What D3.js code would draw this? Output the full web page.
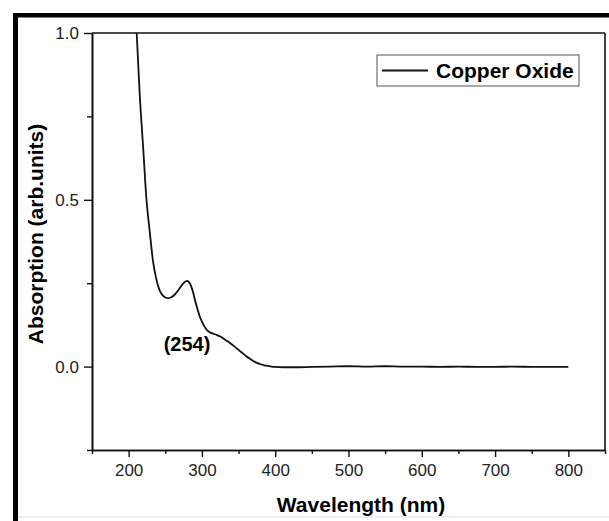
<!DOCTYPE html>
<html>
<head>
<meta charset="utf-8">
<script src="https://cdn.jsdelivr.net/npm/d3@7"></script>
<style>
  body { margin: 0; background: #fff; }
  svg { display: block; }
</style>
</head>
<body>
<script>

// wavelength (nm) and absorption
var wavelength = [205, 208, 211, 215, 220, 224, 229, 233, 238, 242, 246, 250, 254, 258, 262, 266, 270, 274, 278, 280,
  282, 285, 288, 291, 294, 297, 300, 303, 306, 310, 315, 320, 325, 330, 335, 340, 345, 350, 355, 360,
  365, 370, 375, 380, 385, 390, 395, 400, 410, 425, 450, 475, 500, 525, 550, 575, 600, 625, 650, 675,
  700, 725, 750, 775, 800];
var absorption = [1.25, 1.12, 1.0, 0.82, 0.65, 0.51, 0.40, 0.32, 0.26, 0.23, 0.215, 0.207, 0.205, 0.208, 0.214, 0.224, 0.236, 0.248, 0.256, 0.257,
  0.254, 0.243, 0.222, 0.195, 0.172, 0.15, 0.135, 0.122, 0.112, 0.104, 0.099, 0.095, 0.09, 0.083, 0.076, 0.068, 0.059, 0.05, 0.041, 0.032,
  0.024, 0.017, 0.011, 0.007, 0.004, 0.002, 0.0, -0.001, -0.002, -0.002, -0.001, 0.0, 0.001, 0.0, 0.001, 0.0, 0.0, -0.001, 0.0, -0.001,
  -0.001, 0.0, -0.001, -0.001, -0.001];

var x_major = [200, 300, 400, 500, 600, 700, 800];
var x_minor = [150, 250, 350, 450, 550, 650, 750, 850];
var y_major = [0.0, 0.5, 1.0];
var y_minor = [-0.25, 0.25, 0.75];

var series_name = "Copper Oxide";
var peak_label = "(254)";

var w = 609, h = 521;
var fnt = "'Liberation Sans', Arial, Helvetica, sans-serif";

var svg = d3.select("body").append("svg")
  .attr("width", w)
  .attr("height", h);

svg.append("rect").attr("x", 0).attr("y", 0).attr("width", w).attr("height", h).style("fill", "white");

// thick black frame round the picture (top + left only, rest is cropped)
svg.append("rect").attr("x", 13).attr("y", 13).attr("width", w - 13).attr("height", 4.5).style("fill", "black");
svg.append("rect").attr("x", 13).attr("y", 13).attr("width", 5).attr("height", h - 13).style("fill", "black");
svg.append("line")
  .attr("x1", 18).attr("x2", w).attr("y1", 517).attr("y2", 517)
  .style("stroke", "#ddd").style("stroke-width", 1);

// plot box  (don't call these top/left... window.top is read only!)
var pl = 92, pr = 605, pt = 33, pb = 450;

var x = d3.scaleLinear().domain([150, 850]).range([pl, pr]);
var y = d3.scaleLinear().domain([-0.25, 1.0]).range([pb, pt]);

// clip so the steep start gets cut at 1.0
svg.append("clipPath").attr("id", "plotclip")
  .append("rect").attr("x", pl).attr("y", pt).attr("width", pr - pl).attr("height", pb - pt);

var pts = wavelength.map(function(d, i) { return [d, absorption[i]]; });
var line = d3.line()
  .x(function(d) { return x(d[0]); })
  .y(function(d) { return y(d[1]); })
  .curve(d3.curveMonotoneX);

svg.append("path")
  .datum(pts)
  .attr("clip-path", "url(#plotclip)")
  .attr("d", line)
  .style("fill", "none")
  .style("stroke", "#111")
  .style("stroke-width", 1.8);

// axes - major with labels, minor without
var gx = svg.append("g").attr("transform", "translate(0," + pb + ")")
  .call(d3.axisBottom(x).tickValues(x_major).tickSize(7).tickSizeOuter(0).tickFormat(d3.format("d")));
svg.append("g").attr("transform", "translate(0," + pb + ")")
  .call(d3.axisBottom(x).tickValues(x_minor).tickSize(4).tickSizeOuter(0).tickFormat(""));

var gy = svg.append("g").attr("transform", "translate(" + pl + ",0)")
  .call(d3.axisLeft(y).tickValues(y_major).tickSize(8).tickSizeOuter(0).tickFormat(d3.format(".1f")));
svg.append("g").attr("transform", "translate(" + pl + ",0)")
  .call(d3.axisLeft(y).tickValues(y_minor).tickSize(5).tickSizeOuter(0).tickFormat(""));

svg.selectAll(".domain").style("stroke", "#111").style("stroke-width", 1.6);
svg.selectAll(".tick line").style("stroke", "#111").style("stroke-width", 1.4);
svg.selectAll(".tick text")
  .style("font-family", fnt)
  .style("font-size", "17px")
  .style("fill", "#222");
gx.selectAll(".tick text").attr("y", 14);
gy.selectAll(".tick text").attr("x", -13);

// top + right frame lines
svg.append("line").attr("x1", pl).attr("x2", pr).attr("y1", pt).attr("y2", pt)
  .style("stroke", "#111").style("stroke-width", 1.6);
svg.append("line").attr("x1", pr).attr("x2", pr).attr("y1", pt).attr("y2", pb)
  .style("stroke", "#111").style("stroke-width", 1.6);

// axis titles
svg.append("text")
  .attr("x", 361).attr("y", 512)
  .attr("text-anchor", "middle")
  .style("font-family", fnt).style("font-weight", "bold").style("font-size", "21px")
  .text("Wavelength (nm)");

svg.append("text")
  .attr("transform", "translate(43,234) rotate(-90)")
  .attr("text-anchor", "middle")
  .style("font-family", fnt).style("font-weight", "bold").style("font-size", "21px")
  .text("Absorption (arb.units)");

// peak annotation
svg.append("text")
  .attr("x", 187).attr("y", 351)
  .attr("text-anchor", "middle")
  .style("font-family", fnt).style("font-weight", "bold").style("font-size", "20px")
  .text(peak_label);

// legend
svg.append("rect")
  .attr("x", 377).attr("y", 55).attr("width", 202).attr("height", 31)
  .style("fill", "white").style("stroke", "#555").style("stroke-width", 1);
svg.append("line")
  .attr("x1", 382).attr("x2", 428).attr("y1", 70.5).attr("y2", 70.5)
  .style("stroke", "#111").style("stroke-width", 1.8);
svg.append("text")
  .attr("x", 436).attr("y", 78)
  .style("font-family", fnt).style("font-weight", "bold").style("font-size", "21px")
  .text(series_name);

</script>
</body>
</html>
